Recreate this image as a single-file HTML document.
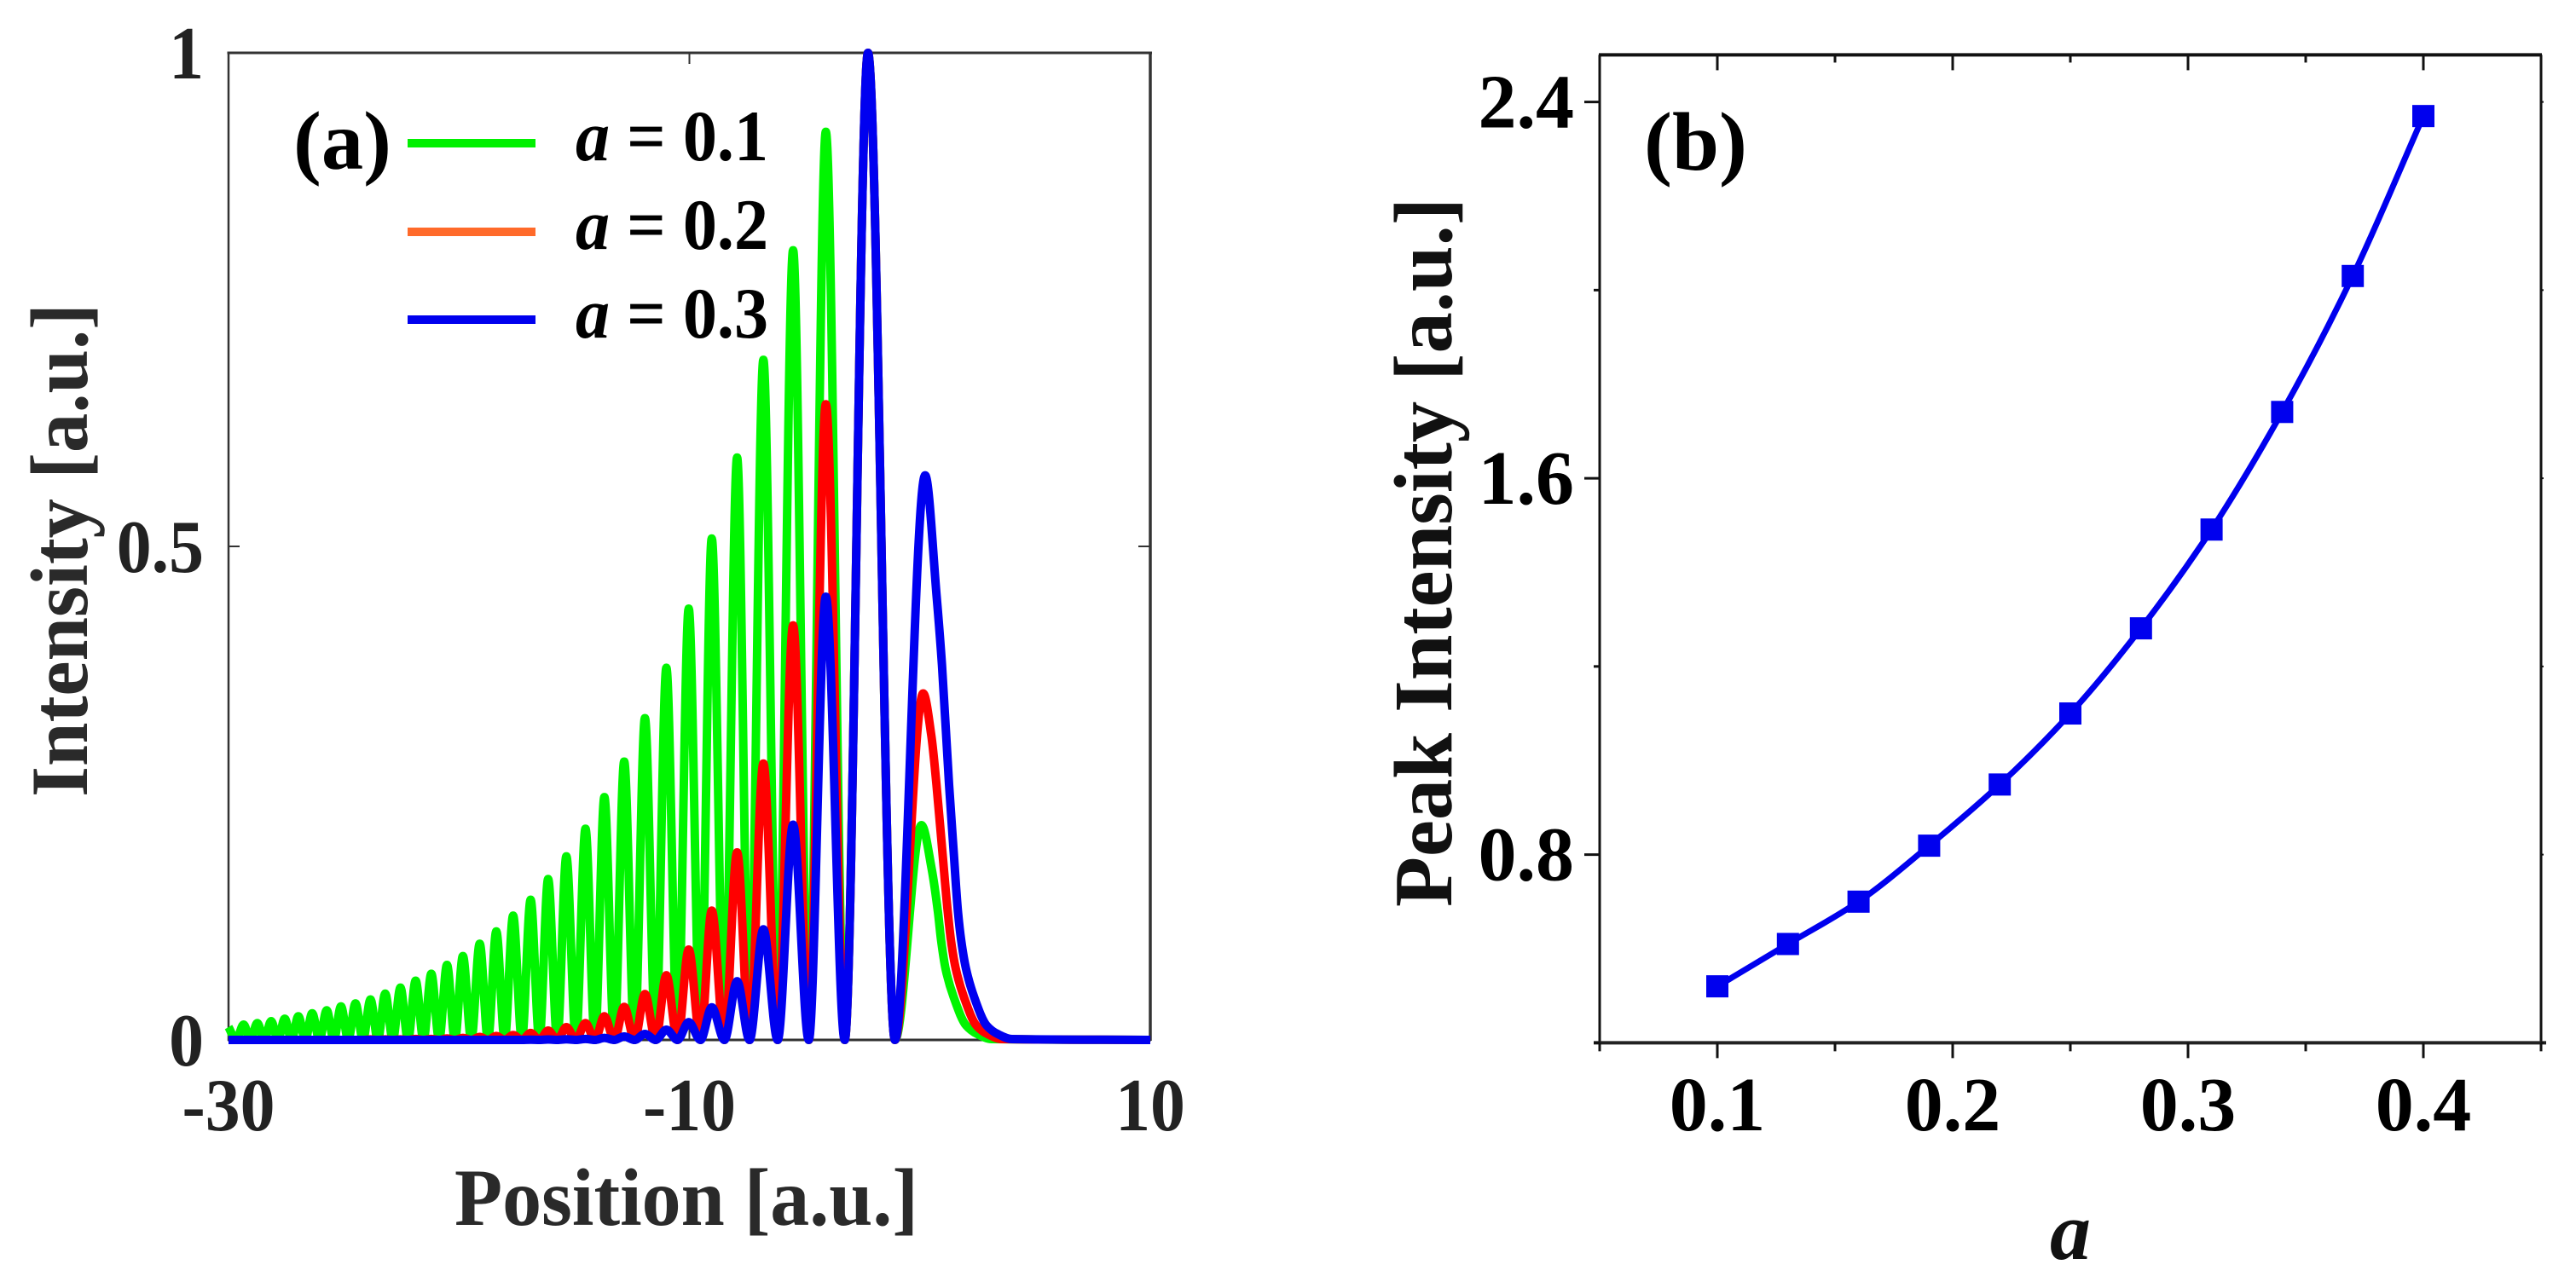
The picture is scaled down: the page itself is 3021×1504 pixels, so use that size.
<!DOCTYPE html>
<html lang="en">
<head>
<meta charset="utf-8">
<title>Intensity profiles and peak intensity</title>
<style>
html,body{margin:0;padding:0;background:#fff}
svg{display:block}
text{font-family:"Liberation Serif","Times New Roman",serif;font-weight:bold}
</style>
</head>
<body>
<svg id="fig" xmlns="http://www.w3.org/2000/svg" width="3021" height="1504" viewBox="0 0 3021 1504">
  <rect width="3021" height="1504" fill="#fff"/>
  <g id="panelA"></g>
  <g id="panelB"></g>

  <text x="344" y="198" font-size="98" textLength="115" lengthAdjust="spacingAndGlyphs" fill="#000">(a)</text>
  <text x="1928" y="199" font-size="98" textLength="121" lengthAdjust="spacingAndGlyphs" fill="#000">(b)</text>

  <rect x="478" y="163" width="150" height="10" fill="#00f000"/>
  <rect x="478" y="267" width="150" height="10" fill="#ff6a2a"/>
  <rect x="478" y="370" width="150" height="10" fill="#0000ee"/>
  <text transform="translate(675,188) scale(.943,1)" font-size="85" fill="#000"><tspan font-style="italic">a</tspan> = 0.1</text>
  <text transform="translate(675,292) scale(.943,1)" font-size="85" fill="#000"><tspan font-style="italic">a</tspan> = 0.2</text>
  <text transform="translate(675,396) scale(.943,1)" font-size="85" fill="#000"><tspan font-style="italic">a</tspan> = 0.3</text>

  <text x="533" y="1437" font-size="95" textLength="544" lengthAdjust="spacingAndGlyphs" fill="#2a2a2a">Position [a.u.]</text>
  <text transform="translate(102,935) rotate(-90)" font-size="95" textLength="579" lengthAdjust="spacingAndGlyphs" fill="#2a2a2a">Intensity [a.u.]</text>
  <text transform="translate(1702,1064) rotate(-90)" font-size="98" textLength="832" lengthAdjust="spacingAndGlyphs" fill="#111">Peak Intensity [a.u.]</text>
  <text x="2404" y="1477" font-size="96" font-style="italic" fill="#111">a</text>
</svg>

<script>
// ---------- Panel (a) data ----------
const peakPositions = [-30,-29.345,-28.75,-28.15,-27.56,-26.97,-26.37,-25.74,-25.12,-24.49,-23.84,-23.2,-22.54,-21.88,-21.2,-20.52,-19.83,-19.1,-18.38,-17.65,-16.89,-16.13,-15.34,-14.51,-13.69,-12.83,-11.93,-11,-10.03,-9.03,-7.93,-6.79,-5.5,-4.08,-2.25];
const zeroPositions = [-29.67,-29.05,-28.45,-27.855,-27.265,-26.67,-26.055,-25.43,-24.805,-24.165,-23.52,-22.87,-22.21,-21.54,-20.86,-20.175,-19.465,-18.74,-18.015,-17.27,-16.51,-15.735,-14.925,-14.1,-13.26,-12.38,-11.465,-10.515,-9.52,-8.48,-7.39,-6.17,-4.82,-3.26,-1.08];
const greenPeaks = [.013,.0155,.017,.019,.0215,.024,.027,.03,.034,.037,.041,.047,.053,.06,.067,.076,.085,.0975,.11,.126,.142,.163,.186,.214,.246,.282,.326,.377,.437,.508,.59,.689,.8,.92,1];
const redPeaks = [0,0,0,0,0,0,0,0,0,0,.0005,.0005,.0005,.001,.001,.0015,.002,.003,.004,.005,.007,.0095,.013,.017,.024,.0335,.0465,.0655,.0915,.131,.19,.28,.42,.644,1];
const bluePeaks = [0,0,0,0,0,0,0,0,0,0,0,0,0,0,0,0,0,0,0,0,.0002,.0004,.0006,.001,.002,.0035,.006,.0104,.018,.033,.0595,.112,.218,.449,1];
const greenTailPositions = [.07,.515,.786,.923,1.119,1.47,2.007,2.488,3.117,10];
const greenTailIntensity = [.2176,.173,.1295,.101,.0717,.0432,.0147,.006,.0009,0];
const redTailPositions = [.145,.5,.72,.98,1.212,1.349,1.563,1.915,2.451,2.93,3.55,10];
const redTailIntensity = [.351,.308,.259,.19,.1295,.101,.0717,.0432,.0147,.006,.0009,0];
const blueTailPositions = [.23,.73,.96,1.267,1.47,1.656,1.793,2.007,2.359,2.895,3.376,4,10];
const blueTailIntensity = [.572,.449,.38,.259,.19,.1295,.101,.0717,.0432,.0147,.006,.0009,0];
const panelAXTicks = [-30,-10,10];
const panelAXTickLabels = ['-30','-10','10'];
const panelAYTicks = [0,.5,1];
const panelAYTickLabels = ['0','0.5','1'];

// ---------- Panel (b) data ----------
const peakA = [.1,.13,.16,.19,.22,.25,.28,.31,.34,.37,.4];
const peakIntensity = [.52,.61,.7,.819,.949,1.1,1.281,1.491,1.741,2.03,2.37];
const panelBXTicks = [.1,.2,.3,.4];
const panelBXTickLabels = ['0.1','0.2','0.3','0.4'];
const panelBXMinorTicks = [.05,.15,.25,.35,.45];
const panelBYTicks = [.8,1.6,2.4];
const panelBYTickLabels = ['0.8','1.6','2.4'];
const panelBYMinorTicks = [.4,1.2,2];

// ---------- Axis functions ----------
const xa = v => 268 + (v + 30) / 40 * 1081;
const ya = v => 1220 - v * 1158;
const xb = v => 2014 + (v - .1) / .3 * 828;
const yb = v => 1002.6 - (v - .8) / 1.6 * 883;

// ---------- Helpers ----------
const NS = 'http://www.w3.org/2000/svg';
function make(parent, tag, props) {
  const el = document.createElementNS(NS, tag);
  for (const k in props) el.setAttribute(k, props[k]);
  parent.appendChild(el);
  return el;
}
function tick(parent, x1, y1, x2, y2, width, color) {
  return make(parent, 'line', {x1, y1, x2, y2, stroke: color, 'stroke-width': width});
}
// Monotone cubic through the points: flat at every local extremum.
function smoothPath(pts) {
  const n = pts.length, d = [], m = [];
  for (let i = 0; i < n - 1; i++) d.push((pts[i+1][1] - pts[i][1]) / (pts[i+1][0] - pts[i][0]));
  m[0] = d[0]; m[n-1] = d[n-2];
  for (let i = 1; i < n - 1; i++) {
    if (d[i-1] * d[i] <= 0) m[i] = 0;
    else {
      const h0 = pts[i][0] - pts[i-1][0], h1 = pts[i+1][0] - pts[i][0];
      m[i] = 3 * (h0 + h1) / ((2*h1 + h0) / d[i-1] + (h1 + 2*h0) / d[i]);
    }
  }
  let s = 'M' + pts[0][0].toFixed(2) + ' ' + pts[0][1].toFixed(2);
  for (let i = 0; i < n - 1; i++) {
    const h = (pts[i+1][0] - pts[i][0]) / 3;
    s += 'C' + (pts[i][0] + h).toFixed(2) + ' ' + (pts[i][1] + m[i]*h).toFixed(2) + ' ' +
         (pts[i+1][0] - h).toFixed(2) + ' ' + (pts[i+1][1] - m[i+1]*h).toFixed(2) + ' ' +
         pts[i+1][0].toFixed(2) + ' ' + pts[i+1][1].toFixed(2);
  }
  return s;
}
function airyPoints(peaks, tailX, tailY) {
  const pts = [];
  peakPositions.forEach((p, i) => {
    pts.push([xa(p), ya(peaks[i])]);
    pts.push([xa(zeroPositions[i]), ya(0)]);
  });
  tailX.forEach((p, i) => pts.push([xa(p), ya(tailY[i])]));
  return pts;
}

// ---------- Panel (a) ----------
const A = document.getElementById('panelA');
const frameA = '#333';
const topA = make(A, 'line', {x1: 266.5, y1: 62, x2: 1351, y2: 62, stroke: frameA, 'stroke-width': 3});


const leftA = make(A, 'line', {x1: 268, y1: 61, x2: 268, y2: 1221, stroke: frameA, 'stroke-width': 2.5});


const rightA = make(A, 'line', {x1: 1349, y1: 61, x2: 1349, y2: 1221, stroke: frameA, 'stroke-width': 3.5});


const bottomA = make(A, 'line', {x1: 267, y1: 1220, x2: 1350, y2: 1220, stroke: frameA, 'stroke-width': 3});



const midTop = tick(A, xa(panelAXTicks[1]), 62, xa(panelAXTicks[1]), 75, 2, frameA);


const midBottom = tick(A, xa(panelAXTicks[1]), 1220, xa(panelAXTicks[1]), 1202, 2, frameA);


const midLeft = tick(A, 268, ya(panelAYTicks[1]), 281, ya(panelAYTicks[1]), 2, frameA);


const midRight = tick(A, 1349, ya(panelAYTicks[1]), 1335, ya(panelAYTicks[1]), 2, frameA);



const curveStyle = {fill: 'none', 'stroke-width': 10, 'stroke-linejoin': 'round'};
const greenLine = make(A, 'path', Object.assign({d: smoothPath(airyPoints(greenPeaks, greenTailPositions, greenTailIntensity)), stroke: '#00f500'}, curveStyle));


const redLine = make(A, 'path', Object.assign({d: smoothPath(airyPoints(redPeaks, redTailPositions, redTailIntensity)), stroke: '#ff0000'}, curveStyle));


const blueLine = make(A, 'path', Object.assign({d: smoothPath(airyPoints(bluePeaks, blueTailPositions, blueTailIntensity)), stroke: '#0000f0'}, curveStyle));



panelAXTicks.forEach((v, i) => {
  const t = make(A, 'text', {transform: 'translate(' + xa(v) + ',1326) scale(.93,1)', 'text-anchor': 'middle', 'font-size': 88, fill: '#222'});
  t.textContent = panelAXTickLabels[i];
  
  
});
panelAYTicks.forEach((v, i) => {
  const t = make(A, 'text', {transform: 'translate(239,' + (ya(v) + 30) + ') scale(.93,1)', 'text-anchor': 'end', 'font-size': 88, fill: '#222'});
  t.textContent = panelAYTickLabels[i];
  
  
});

// ---------- Panel (b) ----------
const B = document.getElementById('panelB');
const frameB = '#111';
const X0 = xb(.05), X1 = xb(.45), Y0 = yb(.4), Y1 = yb(2.5);
const topB = make(B, 'line', {x1: X0 - 1, y1: Y1, x2: X1 + 1, y2: Y1, stroke: frameB, 'stroke-width': 4});


const leftB = make(B, 'line', {x1: X0, y1: Y1, x2: X0, y2: Y0, stroke: frameB, 'stroke-width': 3});


const rightB = make(B, 'line', {x1: X1, y1: Y1, x2: X1, y2: Y0, stroke: frameB, 'stroke-width': 3});


const bottomB = make(B, 'line', {x1: X0 - 7, y1: Y0, x2: X1 + 6, y2: Y0, stroke: '#222', 'stroke-width': 4});



panelBXTicks.forEach((v, i) => {
  const a = tick(B, xb(v), Y0, xb(v), Y0 + 18, 3, frameB);
  
  
  const b = tick(B, xb(v), Y1, xb(v), Y1 + 18, 3, frameB);
  
  
  const t = make(B, 'text', {x: xb(v), y: 1326, 'text-anchor': 'middle', 'font-size': 90, fill: '#000'});
  t.textContent = panelBXTickLabels[i];
  
  
});
panelBXMinorTicks.forEach(v => {
  const a = tick(B, xb(v), Y0, xb(v), Y0 + 10, 3, frameB);
  
  
  const b = tick(B, xb(v), Y1, xb(v), Y1 + 9, 3, frameB);
  
  
});
panelBYTicks.forEach((v, i) => {
  const a = tick(B, X0 - 18, yb(v), X0, yb(v), 3, frameB);
  
  
  const b = tick(B, X1, yb(v), X1 + 3, yb(v), 2, frameB);
  
  
  const t = make(B, 'text', {x: 1846, y: yb(v) + 30, 'text-anchor': 'end', 'font-size': 90, fill: '#000'});
  t.textContent = panelBYTickLabels[i];
  
  
});
panelBYMinorTicks.forEach(v => {
  const a = tick(B, X0 - 7, yb(v), X0, yb(v), 3, frameB);
  
  
  const b = tick(B, X1, yb(v), X1 + 3, yb(v), 2, frameB);
  
  
});

const peakLine = make(B, 'path', {d: smoothPath(peakA.map((a, i) => [xb(a), yb(peakIntensity[i])])), fill: 'none', stroke: '#0000ee', 'stroke-width': 7});


peakA.forEach((a, i) => {
  const s = make(B, 'rect', {x: xb(a) - 13, y: yb(peakIntensity[i]) - 13, width: 26, height: 26, fill: '#0000ee'});
  
  
});
</script>
</body>
</html>
